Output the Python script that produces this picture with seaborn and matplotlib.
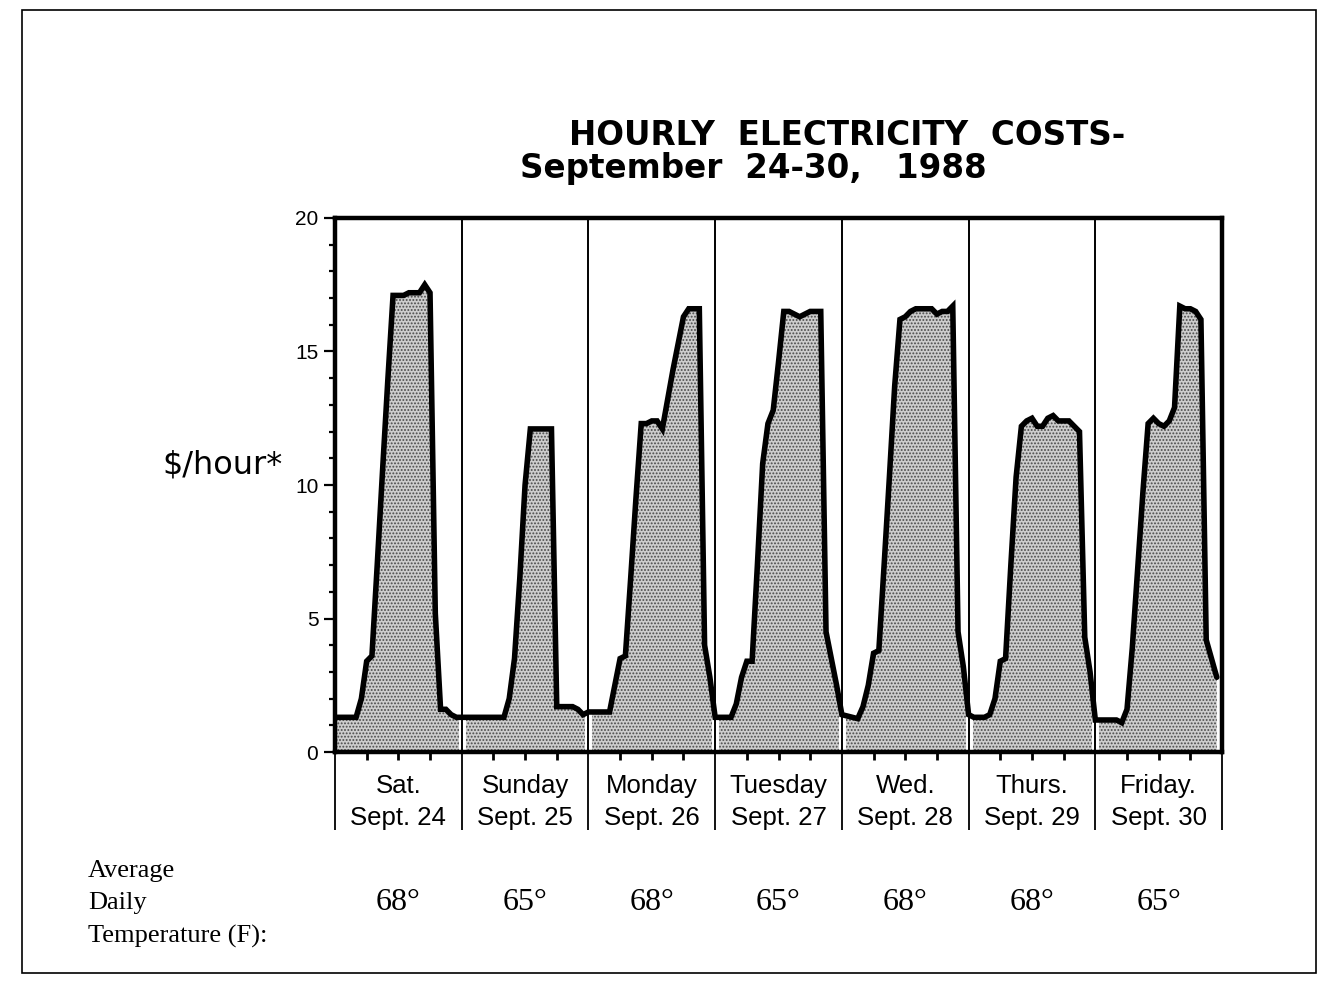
import matplotlib
matplotlib.use('Agg')
import matplotlib.pyplot as plt
import matplotlib.transforms as mtransforms
from matplotlib.patches import Rectangle
from matplotlib.ticker import MultipleLocator
import numpy as np
import seaborn as sns

# hourly cost ($/hour), one list per day, hour 0..23
SAT = [1.3, 1.3, 1.3, 1.3, 1.3, 2.0, 3.4, 3.6, 7.0, 10.5, 13.9, 17.1,
       17.1, 17.1, 17.2, 17.2, 17.2, 17.5, 17.2, 5.2, 1.6, 1.6, 1.4, 1.3]
SUN = [1.3, 1.3, 1.3, 1.3, 1.3, 1.3, 1.3, 1.3, 1.3, 2.0, 3.5, 6.5,
       10.0, 12.1, 12.1, 12.1, 12.1, 12.1, 1.7, 1.7, 1.7, 1.7, 1.6, 1.4]
MON = [1.5, 1.5, 1.5, 1.5, 1.5, 2.5, 3.5, 3.6, 6.5, 9.5, 12.3, 12.3,
       12.4, 12.4, 12.1, 13.2, 14.3, 15.3, 16.3, 16.6, 16.6, 16.6, 4.0, 2.8]
TUE = [1.3, 1.3, 1.3, 1.3, 1.8, 2.8, 3.4, 3.4, 7.0, 10.8, 12.3, 12.8,
       14.6, 16.5, 16.5, 16.4, 16.3, 16.4, 16.5, 16.5, 16.5, 4.5, 3.5, 2.5]
WED = [1.4, 1.35, 1.3, 1.25, 1.7, 2.5, 3.7, 3.8, 7.0, 10.3, 13.7, 16.2,
       16.3, 16.5, 16.6, 16.6, 16.6, 16.6, 16.4, 16.5, 16.5, 16.7, 4.5, 3.2]
THU = [1.4, 1.3, 1.3, 1.3, 1.4, 2.0, 3.4, 3.5, 7.0, 10.3, 12.2, 12.4,
       12.5, 12.2, 12.2, 12.5, 12.6, 12.4, 12.4, 12.4, 12.2, 12.0, 4.3, 3.0]
FRI = [1.2, 1.2, 1.2, 1.2, 1.2, 1.1, 1.6, 3.9, 6.8, 9.7, 12.3, 12.5,
       12.3, 12.2, 12.4, 12.9, 16.7, 16.6, 16.6, 16.5, 16.2, 4.2, 3.5, 2.8]

DAY_NAMES = ['Sat.', 'Sunday', 'Monday', 'Tuesday', 'Wed.', 'Thurs.', 'Friday.']
DATES = ['Sept. 24', 'Sept. 25', 'Sept. 26', 'Sept. 27', 'Sept. 28', 'Sept. 29', 'Sept. 30']
TEMPS = ['68°', '65°', '68°', '65°', '68°', '68°', '65°']
Y_TICKS = [0, 5, 10, 15, 20]

HOURS_PER_DAY = 24


def main():
    sns.set_theme(style='ticks')
    plt.rcParams.update({
        'font.family': ['Liberation Sans', 'DejaVu Sans'],
        'text.color': 'black',
        'xtick.color': 'black',
        'ytick.color': 'black',
        'hatch.linewidth': 0.9,
    })

    cost = np.array(SAT + SUN + MON + TUE + WED + THU + FRI)
    hours = np.arange(len(cost))
    n_days = len(DAY_NAMES)
    day_edges = np.arange(n_days + 1) * HOURS_PER_DAY
    day_centers = day_edges[:-1] + HOURS_PER_DAY / 2

    fig = plt.figure(figsize=(13.24, 9.81), dpi=100)
    ax = fig.add_axes([0.253, 0.2334, 0.670, 0.5444])

    # stippled area under the curve
    ax.fill_between(hours, cost, 0, facecolor='#cdcdcd', hatch='.....',
                    edgecolor='#4a4a4a', linewidth=0, zorder=1)
    for edge in day_edges[1:-1]:
        ax.axvline(edge, color='white', linewidth=5, zorder=2)
        ax.axvline(edge, color='black', linewidth=1.4, zorder=3)
    sns.lineplot(x=hours, y=cost, ax=ax, color='black', linewidth=4.0,
                 zorder=4, solid_joinstyle='miter')

    ax.set_xlim(0, day_edges[-1])
    ax.set_ylim(0, 20)
    ax.set_xlabel('')
    ax.set_ylabel('')

    for side in ['left', 'right', 'top', 'bottom']:
        ax.spines[side].set_linewidth(3.2)
        ax.spines[side].set_color('black')
        ax.spines[side].set_zorder(5)

    ax.set_yticks(Y_TICKS)
    ax.set_yticklabels([str(t) for t in Y_TICKS], fontsize=15)
    ax.yaxis.set_minor_locator(MultipleLocator(1))
    ax.tick_params(axis='y', which='major', direction='out', length=8,
                   width=1.6, color='black', labelcolor='black', pad=4)
    ax.tick_params(axis='y', which='minor', direction='out', length=4,
                   width=1.6, color='black')

    # long major ticks make the day separators below the axis
    ax.set_xticks(day_edges)
    ax.set_xticklabels([])
    ax.xaxis.set_minor_locator(MultipleLocator(6))
    ax.tick_params(axis='x', which='major', direction='out', length=56,
                   width=1.3, color='black')
    ax.tick_params(axis='x', which='minor', direction='out', length=6,
                   width=2.0, color='black')

    xt = ax.get_xaxis_transform()
    for c, name, date in zip(day_centers, DAY_NAMES, DATES):
        ax.text(c, -0.064, name, transform=xt, ha='center', va='center',
                fontsize=18.5)
        ax.text(c, -0.124, date, transform=xt, ha='center', va='center',
                fontsize=18.5)

    title_font = ['DejaVu Sans']
    fig.text(0.64, 0.862, 'HOURLY  ELECTRICITY  COSTS-', ha='center',
             va='center', fontsize=23.5, fontweight='bold', family=title_font)
    fig.text(0.569, 0.845, 'September  24-30,   1988', ha='center',
             va='top', fontsize=23.5, fontweight='bold', family=title_font)

    fig.text(0.168, 0.526, r'\$/hour*', ha='center', va='center',
             fontsize=23, family=title_font)

    serif = ['Liberation Serif', 'DejaVu Serif']
    for txt, ypix in zip(['Average', 'Daily', 'Temperature (F):'], [871, 903, 936]):
        fig.text(88 / 1324, 1 - ypix / 981, txt, ha='left', va='center',
                 fontsize=19, family=serif)
    bt = mtransforms.blended_transform_factory(ax.transData, fig.transFigure)
    for c, t in zip(day_centers, TEMPS):
        fig.text(c, 1 - 903 / 981, t, transform=bt, ha='center', va='center',
                 fontsize=23, family=serif)

    fig.patches.append(Rectangle((22 / 1324, 1 - 973 / 981), 1294 / 1324,
                                 963 / 981, transform=fig.transFigure,
                                 fill=False, edgecolor='black', linewidth=1.2))

    fig.savefig('out.png', dpi=100, facecolor='white')
    plt.close(fig)


if __name__ == '__main__':
    main()
